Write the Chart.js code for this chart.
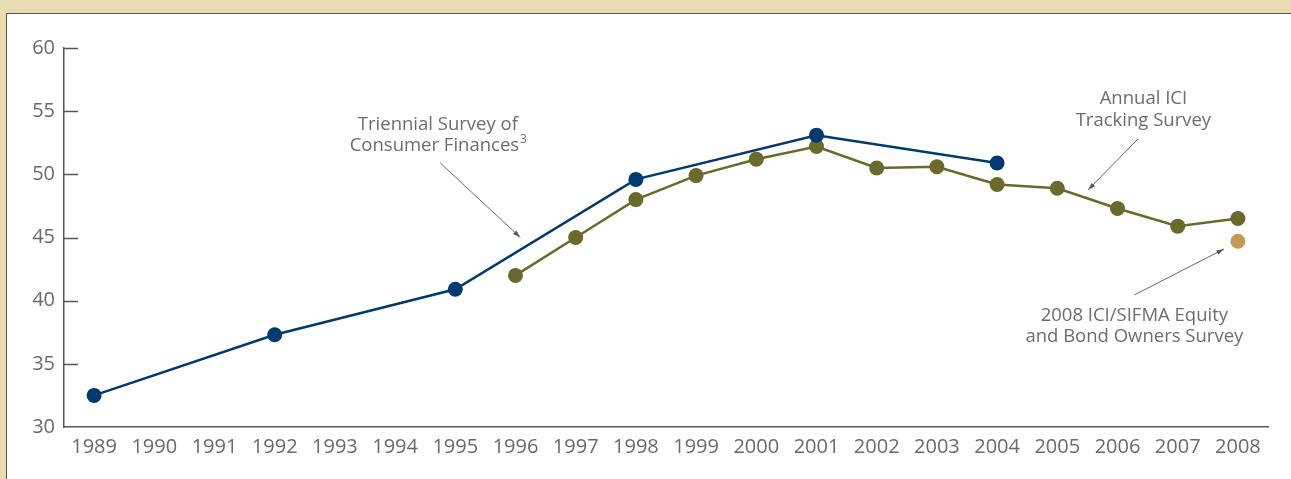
<!DOCTYPE html>
<html>
<head>
<meta charset="utf-8">
<script src="https://cdn.jsdelivr.net/npm/chart.js@4"></script>
<style>
html,body{margin:0;padding:0;width:1291px;height:479px;overflow:hidden;background:#e8ddb0;}
#frame{position:absolute;left:6px;top:13px;width:1300px;height:480px;background:#fff;border:1.5px solid #555;box-sizing:border-box;}
#wrap{position:absolute;left:0;top:0;width:1291px;height:479px;}
</style>
</head>
<body>
<div id="frame"></div>
<div id="wrap"><canvas id="c" width="1291" height="479"></canvas></div>
<script>
const years = ['1989','1990','1991','1992','1993','1994','1995','1996','1997','1998','1999','2000','2001','2002','2003','2004','2005','2006','2007','2008'];
const scfValues = [32.5,null,null,37.3,null,null,40.9,null,null,49.6,null,null,53.1,null,null,50.9,null,null,null,null];
const trackingValues = [null,null,null,null,null,null,null,42.0,45.0,48.0,49.9,51.2,52.2,50.5,50.6,49.2,48.9,47.3,45.9,46.5];
const sifmaValues = [null,null,null,null,null,null,null,null,null,null,null,null,null,null,null,null,null,null,null,44.7];
const yTicks = [30,35,40,45,50,55,60];

// annotations in data units (x = category index, y = value)
const notes = [
  {lines:['Triennial Survey of','Consumer Finances'], sup:'3', x:5.71, y:[53.9,52.25], arrow:[5.75,50.9,7.08,45.0]},
  {lines:['Annual ICI','Tracking Survey'], x:17.43, y:[55.97,54.23], arrow:[17.34,52.8,16.51,48.76]},
  {lines:['2008 ICI/SIFMA Equity','and Bond Owners Survey'], x:17.28, y:[38.79,37.13], arrow:[17.28,40.45,18.77,44.09]}
];

const FONT = '"Open Sans", "Noto Sans", sans-serif';
const NOTE_SIZE = 18.5;

const decor = {
  id:'decor',
  afterDraw(chart){
    const ctx = chart.ctx, xs = chart.scales.x, ys = chart.scales.y;
    ctx.save();
    // inward y tick marks
    ctx.strokeStyle = '#555'; ctx.lineWidth = 1.5;
    yTicks.forEach(v=>{
      if(v===30) return;
      const py = Math.round(ys.getPixelForValue(v))+0.5;
      ctx.beginPath(); ctx.moveTo(xs.left, py); ctx.lineTo(xs.left+14, py); ctx.stroke();
    });
    // annotations
    ctx.fillStyle = '#6d6d6d'; ctx.textAlign = 'center'; ctx.textBaseline = 'middle';
    const big = NOTE_SIZE + 'px ' + FONT, small = '12px ' + FONT;
    ctx.font = big;
    notes.forEach(n=>{
      const cx = xs.getPixelForValue(n.x);
      n.lines.forEach((t,i)=>{
        const py = ys.getPixelForValue(n.y[i]);
        if(n.sup && i===n.lines.length-1){
          ctx.font = big;
          const w = ctx.measureText(t).width;
          ctx.font = small;
          const sw = ctx.measureText(n.sup).width;
          const start = cx - (w+sw)/2;
          ctx.font = big; ctx.textAlign='left';
          ctx.fillText(t, start, py);
          ctx.font = small;
          ctx.fillText(n.sup, start+w+1, py-6);
          ctx.font = big; ctx.textAlign='center';
        } else {
          ctx.fillText(t, cx, py);
        }
      });
      const [ax1,ay1,ax2,ay2] = n.arrow;
      const x1 = xs.getPixelForValue(ax1), y1 = ys.getPixelForValue(ay1);
      const x2 = xs.getPixelForValue(ax2), y2 = ys.getPixelForValue(ay2);
      ctx.strokeStyle = '#666'; ctx.lineWidth = 1;
      ctx.beginPath(); ctx.moveTo(x1,y1); ctx.lineTo(x2,y2); ctx.stroke();
      const ang = Math.atan2(y2-y1, x2-x1), L = 8;
      ctx.fillStyle = '#555';
      ctx.beginPath();
      ctx.moveTo(x2,y2);
      ctx.lineTo(x2 - L*Math.cos(ang-0.3), y2 - L*Math.sin(ang-0.3));
      ctx.lineTo(x2 - L*Math.cos(ang+0.3), y2 - L*Math.sin(ang+0.3));
      ctx.closePath(); ctx.fill();
      ctx.fillStyle = '#6d6d6d';
    });
    ctx.restore();
  }
};

new Chart(document.getElementById('c'), {
  type:'line',
  data:{
    labels:years,
    datasets:[
      {label:'Triennial Survey of Consumer Finances', data:scfValues, spanGaps:true, borderColor:'#003a70', backgroundColor:'#003a70', borderWidth:2.5, pointRadius:7.5, pointHoverRadius:7.5, pointBorderWidth:0, tension:0},
      {label:'Annual ICI Tracking Survey', data:trackingValues, spanGaps:true, borderColor:'#6b692b', backgroundColor:'#6b692b', borderWidth:2.5, pointRadius:7.5, pointHoverRadius:7.5, pointBorderWidth:0, tension:0},
      {label:'2008 ICI/SIFMA Equity and Bond Owners Survey', data:sifmaValues, showLine:false, borderColor:'#c19a56', backgroundColor:'#c19a56', pointRadius:7.5, pointHoverRadius:7.5, pointBorderWidth:0}
    ]
  },
  options:{
    responsive:false, animation:false,
    layout:{padding:{top:48,right:23,left:0,bottom:0}},
    plugins:{legend:{display:false}, tooltip:{enabled:false}},
    scales:{
      x:{
        offset:true,
        grid:{display:false, drawTicks:false},
        border:{display:true, color:'#555', width:1.5},
        ticks:{color:'#6a6a6a', padding:8, font:{size:20, family:FONT}, maxRotation:0, autoSkip:false},
        afterFit(s){ s.height = 52; }
      },
      y:{
        min:30, max:60,
        afterBuildTicks(s){ s.ticks = yTicks.map(v=>({value:v})); },
        grid:{display:false, drawTicks:false},
        border:{display:true, color:'#555', width:1.5},
        ticks:{color:'#6a6a6a', padding:9, font:{size:20, family:FONT}},
        afterFit(s){ s.width = 64; }
      }
    }
  },
  plugins:[decor]
});
</script>
</body>
</html>
